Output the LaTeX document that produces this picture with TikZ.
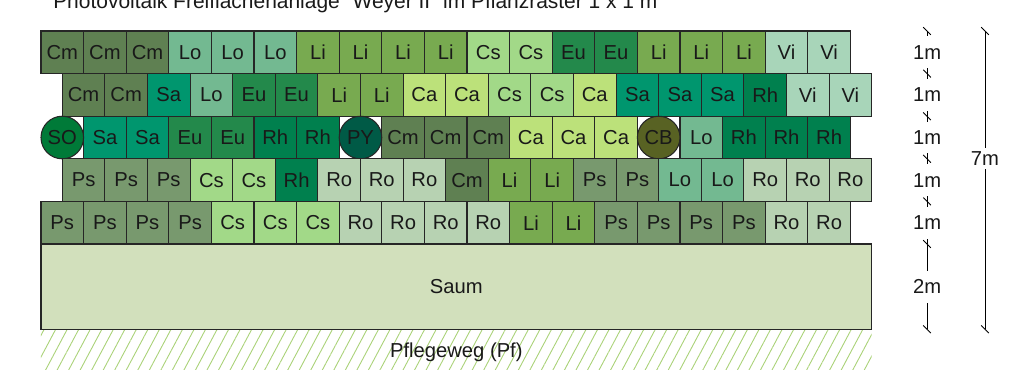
\documentclass[tikz,border=0pt]{standalone}
\usepackage{fontspec}
\setmainfont{Liberation Sans}
\usetikzlibrary{patterns.meta}

\definecolor{colCm}{RGB}{95,128,82}
\definecolor{colLo}{RGB}{115,185,145}
\definecolor{colLi}{RGB}{120,170,80}
\definecolor{colCs}{RGB}{162,217,136}
\definecolor{colEu}{RGB}{35,137,75}
\definecolor{colVi}{RGB}{168,213,185}
\definecolor{colSa}{RGB}{0,150,110}
\definecolor{colCa}{RGB}{188,225,122}
\definecolor{colRh}{RGB}{0,128,78}
\definecolor{colPs}{RGB}{120,153,110}
\definecolor{colRo}{RGB}{183,210,178}
\definecolor{colSO}{RGB}{0,122,56}
\definecolor{colPY}{RGB}{0,90,70}
\definecolor{colCB}{RGB}{88,98,35}
\definecolor{colSaum}{RGB}{210,224,188}
\definecolor{colWeg}{RGB}{170,210,120}

\begin{document}
\begin{tikzpicture}[
        every node/.style={font=\fontsize{13.5}{16}\selectfont, text=black!90},
        cell/.style={shape=rectangle, draw=black!85, line width=0.7pt, minimum width=1cm, minimum height=1cm, inner sep=0pt},
        plant/.style={shape=circle, draw=black!85, line width=0.7pt, minimum size=1cm, inner sep=0pt},
        dimline/.style={draw=black, line width=0.6pt},
        dimlabel/.style={fill=white, inner sep=1pt, minimum height=0.75cm},
        dimtick/.style={draw=black, line width=0.6pt}
    ]
        \useasboundingbox (-0.962,-2.934) rectangle (23.146,5.728);

        % Titel
        \node[anchor=base west, font=\fontsize{14}{16}\selectfont] (title) at (0.164,5.54) {Photovoltaik Freiflächenanlage "Weyer II" im Pflanzraster 1 x 1 m};

        % Pflegeweg und Saum
        \path[pattern={Lines[angle=62,distance=6.8pt,line width=0.6pt]}, pattern color=colWeg] (0,-3.2) rectangle (19.5,-2);
        \node[anchor=center] (weg) at (9.75,-2.55) {Pflegeweg (Pf)};
        \node[cell, fill=colSaum, minimum width=19.5cm, minimum height=2cm] (saum) at (9.75,-1) {Saum};

        % Reihe 1
        \foreach \sp [count=\i] in {Cm,Cm,Cm,Lo,Lo,Lo,Li,Li,Li,Li,Cs,Cs,Eu,Eu,Li,Li,Li,Vi,Vi}
            \node[cell, fill=col\sp] (a\i) at (\i-0.5,4.5) {\sp};
        % Reihe 2
        \foreach \sp [count=\i] in {Cm,Cm,Sa,Lo,Eu,Eu,Li,Li,Ca,Ca,Cs,Cs,Ca,Sa,Sa,Sa,Rh,Vi,Vi}
            \node[cell, fill=col\sp] (b\i) at (\i,3.5) {\sp};
        % Reihe 3
        \foreach \i/\sp in {2/Sa,3/Sa,4/Eu,5/Eu,6/Rh,7/Rh,9/Cm,10/Cm,11/Cm,12/Ca,13/Ca,14/Ca,16/Lo,17/Rh,18/Rh,19/Rh}
            \node[cell, fill=col\sp] (c\i) at (\i-0.5,2.5) {\sp};
        \node[plant, fill=colSO] (c1) at (0.5,2.5) {SO};
        \node[plant, fill=colPY] (c8) at (7.5,2.5) {PY};
        \node[plant, fill=colCB] (c15) at (14.5,2.5) {CB};
        % Reihe 4
        \foreach \sp [count=\i] in {Ps,Ps,Ps,Cs,Cs,Rh,Ro,Ro,Ro,Cm,Li,Li,Ps,Ps,Lo,Lo,Ro,Ro,Ro}
            \node[cell, fill=col\sp] (d\i) at (\i,1.5) {\sp};
        % Reihe 5
        \foreach \sp [count=\i] in {Ps,Ps,Ps,Ps,Cs,Cs,Cs,Ro,Ro,Ro,Ro,Li,Li,Ps,Ps,Ps,Ps,Ro,Ro}
            \node[cell, fill=col\sp] (e\i) at (\i-0.5,0.5) {\sp};

        % Bemassung
        \coordinate (m0) at (20.8,5);
        \coordinate (m7) at (20.8,-2);
        \path[dimline] (m0) -- (m7);
        \foreach \y in {5,4,3,2,1,0,-2}
            \path[dimtick] (20.71,\y+0.09) -- (20.89,\y-0.09);
        \foreach \y [count=\k] in {4.5,3.5,2.5,1.5,0.5}
            \node[dimlabel] (h\k) at (20.8,\y) {1m};
        \node[dimlabel] (h6) at (20.8,-1) {2m};

        \coordinate (g0) at (22.16,5);
        \coordinate (g7) at (22.16,-2);
        \path[dimline] (g0) -- (g7);
        \path[dimtick] (22.07,5.09) -- (22.25,4.91);
        \path[dimtick] (22.07,-1.91) -- (22.25,-2.09);
        \node[dimlabel, minimum height=0.5cm] (total) at (22.16,2) {7m};
\end{tikzpicture}
\end{document}
